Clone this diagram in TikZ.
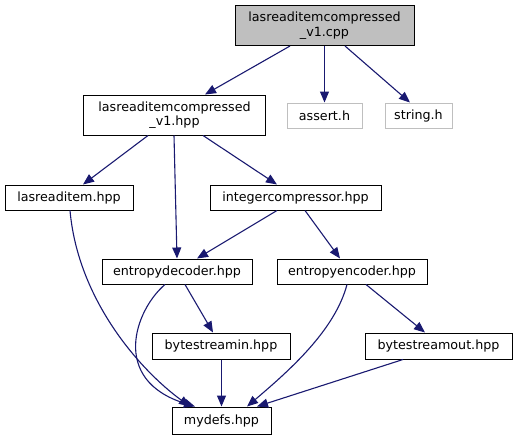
\documentclass[tikz,border=0pt]{standalone}
\usepackage{fontspec}
\setmainfont{DejaVu Sans}
\usetikzlibrary{arrows.meta}
\definecolor{edgec}{HTML}{191970}
\definecolor{grayfill}{HTML}{BFBFBF}
\definecolor{grayline}{HTML}{BFBFBF}
\begin{document}
\begin{tikzpicture}[x=1pt,y=-1pt,
  box/.style={draw=black,line width=1pt,rectangle,inner sep=0pt,align=center,
    font=\fontsize{12.7}{14.5}\selectfont,text=black},
  sysbox/.style={box,draw=grayline},
  edge/.style={draw=edgec,line width=1.1pt,-{Triangle[length=11pt,width=9pt]}}]
\useasboundingbox (0,0) rectangle (517,440);
\node[box,fill=grayfill,minimum width=179pt,minimum height=40pt] (cpp) at (324.5,25.5) {lasreaditemcompressed\\\_v1.cpp};
\node[box,minimum width=182pt,minimum height=40pt] (hpp) at (174.5,115) {lasreaditemcompressed\\\_v1.hpp};
\node[sysbox,minimum width=75pt,minimum height=25pt] (assert) at (324.5,115.5) {assert.h};
\node[sysbox,minimum width=67pt,minimum height=25pt] (string) at (418.5,115.5) {string.h};
\node[box,minimum width=128pt,minimum height=25pt] (lri) at (69,197.5) {lasreaditem.hpp};
\node[box,minimum width=171pt,minimum height=25pt] (ic) at (295.5,197.5) {integercompressor.hpp};
\node[box,minimum width=150pt,minimum height=25pt] (ed) at (177,271.5) {entropydecoder.hpp};
\node[box,minimum width=150pt,minimum height=25pt] (ee) at (352,271.5) {entropyencoder.hpp};
\node[box,minimum width=138pt,minimum height=26pt] (bsin) at (221,346) {bytestreamin.hpp};
\node[box,minimum width=147pt,minimum height=26pt] (bsout) at (438.5,346) {bytestreamout.hpp};
\node[box,minimum width=99pt,minimum height=27pt] (md) at (221.5,420.5) {mydefs.hpp};

\draw[edge] ([xshift=-34.5pt]cpp.south) -- ([xshift=30.5pt]hpp.north);
\draw[edge] (cpp.south) -- (assert.north);
\draw[edge] ([xshift=20.5pt]cpp.south) -- ([xshift=-8.5pt]string.north);
\draw[edge] ([xshift=-26.5pt]hpp.south) -- ([xshift=14pt]lri.north);
\draw[edge] ([xshift=-0.5pt]hpp.south) -- (ed.north);
\draw[edge] ([xshift=28.5pt]hpp.south) -- ([xshift=-18.5pt]ic.north);
\draw[edge] ([xshift=1pt]lri.south) .. controls (78,300) and (140,370) .. ([xshift=-31.5pt]md.north);
\draw[edge] ([xshift=-12pt]ed.south) .. controls (135,310) and (110,380) .. ([xshift=-26.5pt]md.north);
\draw[edge] ([xshift=8pt]ed.south) -- ([xshift=-8pt]bsin.north);
\draw[edge] ([xshift=-18.5pt]ic.south) -- ([xshift=20pt]ed.north);
\draw[edge] ([xshift=9.5pt]ic.south) -- ([xshift=-12pt]ee.north);
\draw[edge] ([xshift=-5pt]ee.south) .. controls (335,330) and (290,370) .. ([xshift=25.5pt]md.north);
\draw[edge] ([xshift=14pt]ee.south) -- ([xshift=-13.5pt]bsout.north);
\draw[edge] ([xshift=0.5pt]bsin.south) -- ([xshift=0.5pt]bsin.south |- md.north);
\draw[edge] ([xshift=-35.5pt]bsout.south) -- ([xshift=35.5pt]md.north);
\end{tikzpicture}
\end{document}
